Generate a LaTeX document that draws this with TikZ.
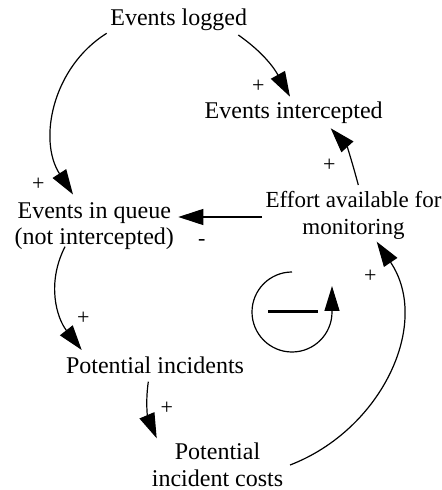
\documentclass[tikz,border=0pt]{standalone}
\usepackage{fontspec}
\setmainfont{Liberation Serif}
\usetikzlibrary{arrows.meta}

\begin{document}
\begin{tikzpicture}[
  x=0.5pt, y=-0.5pt,
  var/.style={anchor=base, align=center, inner sep=0pt,
    font=\fontsize{12}{13.4}\selectfont},
  pol/.style={inner sep=0pt, font=\fontsize{11}{13}\selectfont},
  link/.style={line width=0.6pt,
    -{Triangle[length=12.5pt,width=8pt]}},
  looparrow/.style={line width=0.6pt,
    -{Triangle[length=12.5pt,width=7.5pt]}},
]
\useasboundingbox (0,0) rectangle (442,490);

% variables (base anchor = baseline of the last line)
\node[var] (logged)      at (178.7,26)    {Events logged};
\node[var] (intercepted) at (293.7,119)   {Events intercepted};
\node[var] (queue)       at (94.3,245)    {Events in queue\\(not intercepted)};
\node[var, font=\fontsize{11.5}{13.4}\selectfont]
           (effort)      at (353.5,234.3) {Effort available for\\monitoring};
\node[var] (incidents)   at (155,373.3)   {Potential incidents};
\node[var] (costs)       at (217.5,486)   {Potential\\incident costs};

% causal links
\draw[link] ([shift={(-72,7.3)}]logged.base) to[out=212,in=123]
  ([shift={(-21.3,-50.5)}]queue.base);
\draw[link] ([shift={(59.6,9)}]logged.base) to[out=325,in=119]
  ([shift={(-3.7,-22.3)}]intercepted.base);
\draw[link] ([shift={(4.8,-49.3)}]effort.base) to[out=105,in=312]
  ([shift={(37,9.3)}]intercepted.base);
\draw[link] ([shift={(-91.5,-17.3)}]effort.base) --
  ([shift={(84,-28)}]queue.base);
\draw[link] ([shift={(-29.3,1.7)}]queue.base) to[out=243,in=128]
  ([shift={(-73.3,-23.3)}]incidents.base);
\draw[link] ([shift={(-6.7,8.4)}]incidents.base) to[out=262,in=113]
  ([shift={(-60.8,-47.7)}]costs.base);
\draw[link] ([shift={(72.5,-21)}]costs.base) to[out=21,in=304,looseness=1.05]
  ([shift={(23.2,7.4)}]effort.base);

% link polarities
\node[pol] (p1) at (258.3,86.7) {+};
\node[pol] (p2) at (38.3,184)   {+};
\node[pol] (p3) at (329.3,165)  {+};
\node[pol] (p4) at (201.7,242)  {-};
\node[pol] (p5) at (83.3,318)   {+};
\node[pol] (p6) at (166.7,408)  {+};
\node[pol] (p7) at (370.3,276)  {+};

% balancing loop marker
\coordinate (loopc) at (292,312);
\draw[looparrow] ([yshift=20pt]loopc) arc[start angle=90, end angle=360, radius=20pt]
  -- ++(0pt,13pt);
\draw[line width=1.7pt] ([xshift=-12pt,yshift=0.3pt]loopc) -- ([xshift=13pt,yshift=0.3pt]loopc);
\end{tikzpicture}
\end{document}
